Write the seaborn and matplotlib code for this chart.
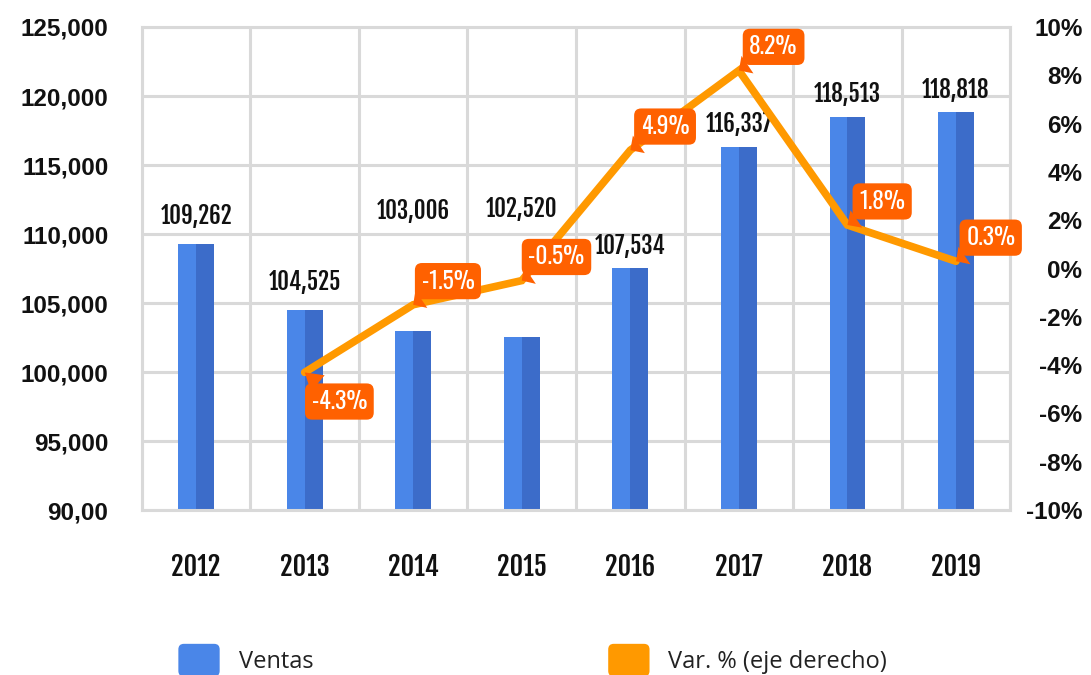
import numpy as np
import pandas as pd
import seaborn as sns
import matplotlib
matplotlib.use("Agg")
import matplotlib.pyplot as plt
from matplotlib.patches import Patch, FancyBboxPatch
from matplotlib.legend_handler import HandlerPatch

# data
years = ['2012', '2013', '2014', '2015', '2016', '2017', '2018', '2019']
ventas = [109262, 104525, 103006, 102520, 107534, 116337, 118513, 118818]
var_years = ['2013', '2014', '2015', '2016', '2017', '2018', '2019']
var_pct = [-4.3, -1.5, -0.5, 4.9, 8.2, 1.8, 0.3]
left_ticks = [90000, 95000, 100000, 105000, 110000, 115000, 120000, 125000]
left_labels = ['90,00', '95,000', '100,000', '105,000', '110,000', '115,000', '120,000', '125,000']
right_ticks = [-10, -8, -6, -4, -2, 0, 2, 4, 6, 8, 10]

# styles
light_blue = '#4A86E8'
dark_blue = '#3C6CC9'
line_orange = '#FF9900'
box_orange = '#FF6100'
grid_grey = '#D9D9D9'
bold_narrow = ['Fjalla One', 'Oswald', 'DejaVu Sans']
light_narrow = ['Oswald', 'Roboto Condensed', 'DejaVu Sans']
label_dy = [20, 20, 86, 92, 16, 16, 16, 16]  # points above bar top

sns.set_style('white')
plt.rcParams['font.family'] = ['Liberation Sans', 'DejaVu Sans']

fig = plt.figure(figsize=(10.91, 6.75), dpi=100)
ax = fig.add_axes([0.130, 0.2444, 0.796, 0.7156])

# two-tone bars: same values twice, dodged by hue
bars = pd.DataFrame({
    'year': years * 2,
    'ventas': ventas * 2,
    'half': ['a'] * len(years) + ['b'] * len(years),
})
sns.barplot(data=bars, x='year', y='ventas', hue='half', order=years,
            palette=[light_blue, dark_blue], width=0.33, dodge=True,
            gap=0, saturation=1, legend=False, linewidth=0, edgecolor='none', ax=ax)

ax.set_ylim(90000, 125000)
ax.set_xlim(-0.5, len(years) - 0.5)
ax.set_yticks(left_ticks)
ax.set_yticklabels(left_labels)
ax.set_xticks(np.arange(len(years) + 1) - 0.5, minor=True)
ax.set_axisbelow(True)
ax.grid(which='major', axis='y', color=grid_grey, lw=2.2)
ax.grid(which='minor', axis='x', color=grid_grey, lw=2.2)
ax.grid(which='major', axis='x', visible=False)
ax.set_xlabel('')
ax.set_ylabel('')
for s in ax.spines.values():
    s.set_color(grid_grey)
    s.set_linewidth(2.2)
ax.tick_params(which='both', length=0)
ax.tick_params(axis='y', pad=24, labelsize=17.5, labelcolor='#111111')
ax.tick_params(axis='x', pad=30, labelcolor='#111111')
for t in ax.get_yticklabels():
    t.set_fontweight('bold')
for t in ax.get_xticklabels():
    t.set_fontfamily(bold_narrow)
    t.set_fontsize(19)

# value labels above bars
for i, v in enumerate(ventas):
    ax.annotate(f'{v:,}', (i, v), xytext=(0, label_dy[i]), textcoords='offset points',
                ha='center', va='center', fontsize=16.5,
                family=bold_narrow, color='#111111')

# variation line on right axis
ax2 = ax.twinx()
line_x = [years.index(y) for y in var_years]
sns.lineplot(x=line_x, y=var_pct, color=line_orange, lw=5.5, ax=ax2,
             solid_capstyle='round', solid_joinstyle='miter')
ax2.set_ylim(-10, 10)
ax2.set_yticks(right_ticks)
ax2.set_yticklabels([f'{t}%' for t in right_ticks])
ax2.tick_params(axis='y', length=0, pad=52, labelsize=17.5, labelcolor='#111111')
for t in ax2.get_yticklabels():
    t.set_fontweight('bold')
    t.set_horizontalalignment('right')
for s in ax2.spines.values():
    s.set_visible(False)
ax2.grid(False)

for x, p in zip(line_x, var_pct):
    dy = -21 if p < -3 else 17
    ax2.annotate(f'{p}%', (x, p), xytext=(25, dy), textcoords='offset points',
                 ha='center', va='center', fontsize=17,
                 family=light_narrow, color='white',
                 bbox=dict(boxstyle='round,pad=0.28,rounding_size=0.3', fc=box_orange, ec='none'),
                 arrowprops=dict(arrowstyle='wedge,tail_width=0.9,shrink_factor=0.5',
                                 fc=box_orange, ec='none', shrinkA=0, shrinkB=0))


class RoundHandler(HandlerPatch):
    def create_artists(self, legend, orig_handle, xdescent, ydescent, width, height, fontsize, trans):
        p = FancyBboxPatch((-xdescent, -ydescent), width, height,
                           boxstyle='round,pad=0,rounding_size=4',
                           fc=orig_handle.get_facecolor(), ec='none', transform=trans)
        return [p]


legend_font = {'family': ['Open Sans', 'DejaVu Sans'], 'size': 17}
for label, color, xpos in [('Ventas', light_blue, 0.144), ('Var. % (eje derecho)', line_orange, 0.538)]:
    fig.legend(handles=[Patch(facecolor=color, label=label)], loc='center left',
               bbox_to_anchor=(xpos, 0.022), frameon=False, prop=legend_font,
               handlelength=1.75, handleheight=1.75, handletextpad=0.8,
               labelcolor='#222222', handler_map={Patch: RoundHandler()})

fig.savefig('out.png', dpi=100)
